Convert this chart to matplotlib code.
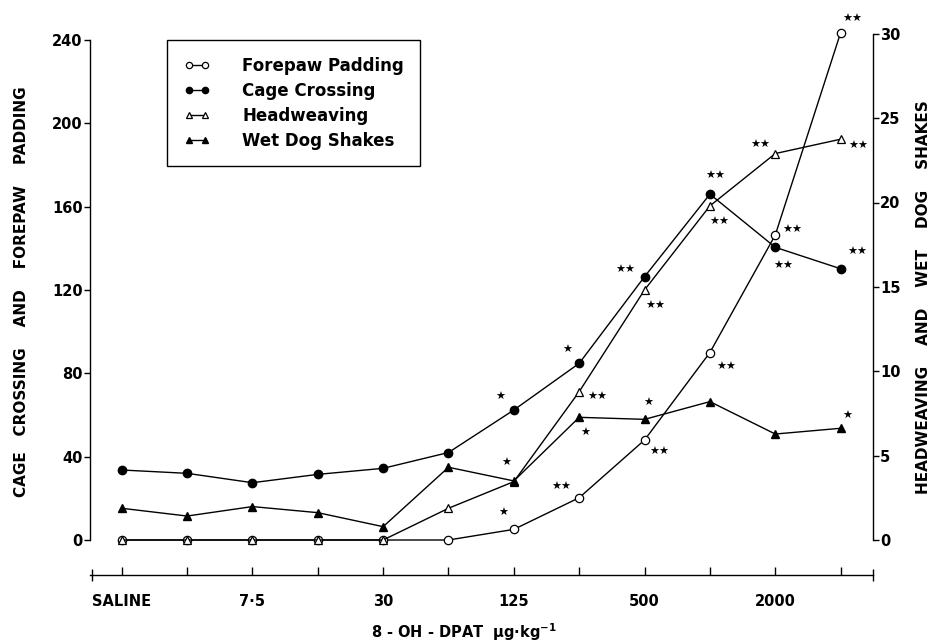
import matplotlib
matplotlib.use("Agg")
import matplotlib.pyplot as plt

plt.rcParams['font.family'] = ['DejaVu Sans']
plt.rcParams['font.weight'] = 'bold'

# ---------------- data ----------------
dose_labels = ["SALINE", "", "7·5", "", "30", "", "125", "", "500", "", "2000", ""]
dose_pos = list(range(12))

forepaw_padding = [0, 0, 0, 0, 0, 0, 5.1, 20.3, 48, 90, 146.4, 243.5]
cage_crossing = [33.6, 32, 27.5, 31.5, 34.4, 42, 62.4, 84.8, 126.4, 166, 140.5, 130.2]
headweaving = [0, 0, 0, 0, 0, 1.88, 3.46, 8.79, 14.82, 19.8, 22.9, 23.75]
wet_dog_shakes = [1.88, 1.42, 1.98, 1.62, 0.79, 4.31, 3.5, 7.27, 7.15, 8.2, 6.28, 6.62]

left_ticks = [0, 40, 80, 120, 160, 200, 240]
right_ticks = [0, 5, 10, 15, 20, 25, 30]

# significance marks: (series, dose index, mark)
sig_marks = [
    ("fp", 11, "★★"), ("hw", 10, "★★"), ("hw", 11, "★★"), ("cc", 9, "★★"),
    ("hw", 9, "★★"), ("fp", 10, "★★"), ("cc", 10, "★★"), ("cc", 11, "★★"),
    ("cc", 8, "★★"), ("hw", 8, "★★"), ("cc", 7, "★"), ("fp", 9, "★★"),
    ("cc", 6, "★"), ("hw", 7, "★★"), ("wd", 8, "★"), ("wd", 7, "★"),
    ("wd", 11, "★"), ("fp", 8, "★★"), ("wd", 6, "★"), ("fp", 7, "★★"),
    ("fp", 6, "★"),
]
# offsets of the marks from their points (pixels)
sig_offsets = [
    (12, 14), (-15, 9), (18, -7), (5, 18),
    (9, -16), (17, 5), (8, -19), (17, 17),
    (-19, 7), (11, -16), (-12, 13), (16, -14),
    (-14, 13), (18, -5), (4, 16), (6, -16),
    (7, 12), (15, -12), (-8, 18), (-18, 11),
    (-11, 16),
]

# ---------------- figure ----------------
W, H = 932, 642
fig = plt.figure(figsize=(W / 100, H / 100), dpi=100)
ax = fig.add_axes([89.7 / W, 102 / H, 783.6 / W, 506.25 / H])
ax2 = ax.twinx()

lw = 1.0
ms = 6.0
l_fp, = ax.plot(dose_pos, forepaw_padding, color='black', lw=lw, marker='o', ms=ms,
                mfc='white', mec='black', mew=0.9, clip_on=False, zorder=3)
l_cc, = ax.plot(dose_pos, cage_crossing, color='black', lw=lw, marker='o', ms=ms,
                mfc='black', mec='black', clip_on=False, zorder=3)
l_hw, = ax2.plot(dose_pos, headweaving, color='black', lw=lw, marker='^', ms=ms,
                 mfc='white', mec='black', mew=0.9, clip_on=False, zorder=3)
l_wd, = ax2.plot(dose_pos, wet_dog_shakes, color='black', lw=lw, marker='^', ms=ms,
                 mfc='black', mec='black', clip_on=False, zorder=3)

ax.set_xlim(-0.49, 11.5)
ax.set_ylim(0, 243)
ax2.set_ylim(0, 30)

# spines
for a in (ax, ax2):
    a.spines['top'].set_visible(False)
ax.spines['right'].set_visible(False)
ax2.spines['left'].set_visible(False)
ax2.spines['bottom'].set_visible(False)
ax.spines['bottom'].set_position(('outward', 25.2))
ax.spines['left'].set_bounds(0, 240)
ax2.spines['right'].set_bounds(0, 30)
for a in (ax, ax2):
    for s in a.spines.values():
        s.set_linewidth(1.0)

ax.set_xticks(dose_pos)
ax.set_xticklabels(dose_labels, fontsize=10.5, fontweight='bold')
ax.set_xticks([-0.46, 11.5], minor=True)
ax.tick_params(axis='x', which='major', direction='in', length=6, width=1.0, pad=14)
ax.tick_params(axis='x', which='minor', direction='inout', length=9, width=1.0)

ax.set_yticks(left_ticks)
ax.set_yticklabels([str(t) for t in left_ticks], fontsize=10.5, fontweight='bold')
ax.tick_params(axis='y', direction='out', length=4, width=1.0, pad=1)
ax2.set_yticks(right_ticks)
ax2.set_yticklabels([str(t) for t in right_ticks], fontsize=10.5, fontweight='bold')
ax2.tick_params(axis='y', direction='out', length=4, width=1.0, pad=1)

# axis titles
fig.text(22 / W, 1 - 292 / H, "CAGE   CROSSING    AND    FOREPAW    PADDING",
         rotation=90, ha='center', va='center', fontsize=11, fontweight='bold')
fig.text(924 / W, 1 - 297 / H, "HEADWEAVING    AND    WET    DOG    SHAKES",
         rotation=90, ha='center', va='center', fontsize=11, fontweight='bold')
fig.text(464 / W, 1 - 632 / H, "8 - OH - DPAT  \u03bcg\u00b7kg$^{-1}$",
         ha='center', va='center', fontsize=10.5, fontweight='bold')

# significance stars
series_map = {"fp": (ax, forepaw_padding), "cc": (ax, cage_crossing),
              "hw": (ax2, headweaving), "wd": (ax2, wet_dog_shakes)}
for (key, i, mark), (dx, dy) in zip(sig_marks, sig_offsets):
    a, vals = series_map[key]
    a.annotate(mark, (dose_pos[i], vals[i]), xytext=(dx, dy), textcoords='offset pixels',
               ha='center', va='center', fontsize=8, annotation_clip=False)

# legend
handles = [l_fp, l_cc, l_hw, l_wd]
labels = ["Forepaw Padding", "Cage Crossing", "Headweaving", "Wet Dog Shakes"]
leg = ax2.legend(handles, labels, loc='upper left',
                 bbox_to_anchor=(167 / W, 1 - 40 / H), bbox_transform=fig.transFigure,
                 numpoints=2, handlelength=1.6, handletextpad=1.9, labelspacing=0.42,
                 borderpad=1.0, borderaxespad=0, fancybox=False, framealpha=1,
                 edgecolor='black', prop={'size': 12, 'weight': 'bold'}, markerscale=0.75)
leg.get_frame().set_linewidth(1.0)

fig.savefig("out.png", dpi=100)
